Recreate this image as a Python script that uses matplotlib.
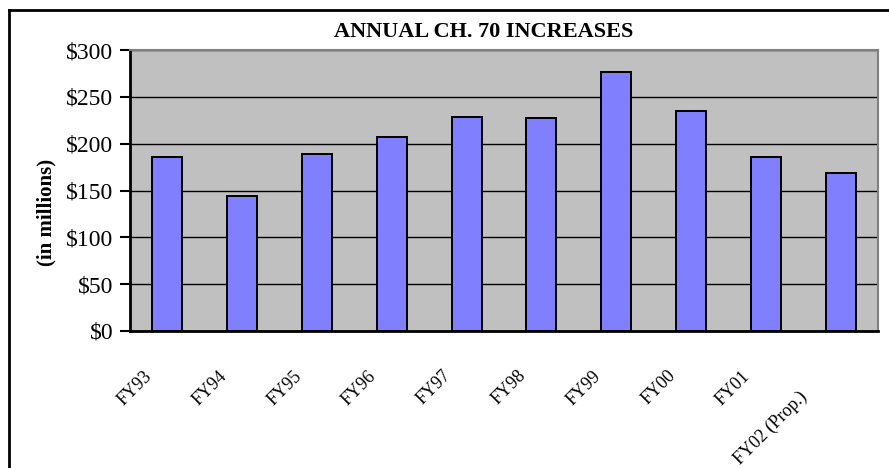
import matplotlib.pyplot as plt
from matplotlib.lines import Line2D
import matplotlib.transforms as mtransforms

# data
years = ['FY93', 'FY94', 'FY95', 'FY96', 'FY97', 'FY98', 'FY99', 'FY00', 'FY01', 'FY02 (Prop.)']
increases = [186, 144, 189, 207, 229, 227, 276, 235, 186, 169]
yticks = [0, 50, 100, 150, 200, 250, 300]

plt.rcParams['font.family'] = ['Liberation Serif', 'DejaVu Serif']

fig = plt.figure(figsize=(8.89, 4.68), dpi=100)
ax = fig.add_axes([130 / 889, 1 - 331 / 468, 748 / 889, 281 / 468])

x = list(range(len(years)))
ax.set_facecolor('#c0c0c0')
ax.bar(x, increases, width=0.4, color='#8080ff', edgecolor='black', linewidth=1.4, zorder=3)

ax.set_xlim(-0.5, len(years) - 0.5)
ax.set_ylim(0, 300)
ax.set_yticks(yticks)
ax.set_yticklabels(['$%d' % v for v in yticks], fontsize=17)
ax.yaxis.grid(True, color='black', linewidth=1, zorder=1)
ax.set_axisbelow(True)
ax.tick_params(axis='y', direction='out', length=7, width=1.5, pad=5)
ax.tick_params(axis='x', length=0)

ax.set_xticks(x)
ax.set_xticklabels(years, fontsize=13, rotation=45, ha='right',
                   rotation_mode='anchor', va='center')
for i, lab in enumerate(ax.get_xticklabels()):
    dx, dy = -13 / 72, -27 / 72
    if i == len(years) - 1:
        dx, dy = -26 / 72, -42 / 72
    lab.set_transform(lab.get_transform() + mtransforms.ScaledTranslation(dx, dy, fig.dpi_scale_trans))

for s in ['left', 'bottom']:
    ax.spines[s].set_color('black')
    ax.spines[s].set_linewidth(2)
for s in ['top', 'right']:
    ax.spines[s].set_color('#808080')
    ax.spines[s].set_linewidth(1.5)

fig.text(484 / 889, 1 - 32 / 468, 'ANNUAL CH. 70 INCREASES',
         ha='center', va='center', fontsize=16, fontweight='bold')
fig.text(46 / 889, 1 - 212 / 468, '(in millions)', rotation=90,
         ha='center', va='center', fontsize=15, fontweight='bold')

# outer chart border
fig.add_artist(Line2D([9 / 889, 9 / 889], [0, 1 - 10 / 468], color='black', linewidth=2))
fig.add_artist(Line2D([9 / 889, 1], [1 - 10 / 468, 1 - 10 / 468], color='black', linewidth=2))

fig.savefig('out.png', dpi=100)
